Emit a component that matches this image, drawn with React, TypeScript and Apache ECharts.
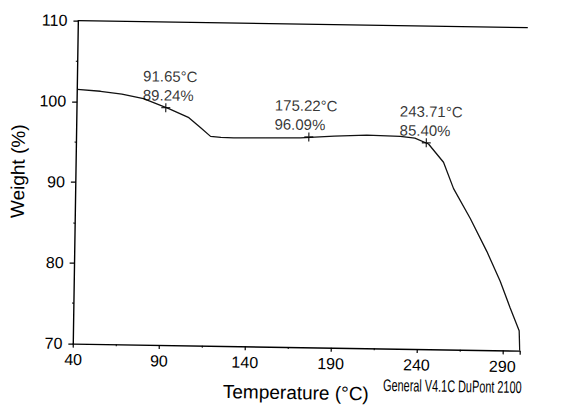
import React, { useEffect, useRef } from "react";
import * as echarts from "echarts";

// TGA curve: temperature (°C) vs weight (%)
const temps = [40, 53.5, 66, 78.6, 93.4, 105.2, 112, 118, 124, 131.5, 150, 170.3, 190, 209, 228.5, 237, 245, 253.9, 260, 270, 280, 288, 294, 299.5, 300];
const weights = [101.5, 101.3, 101.0, 100.47, 99.29, 98.2, 97.0, 95.93, 95.82, 95.8, 95.85, 95.93, 96.2, 96.39, 96.29, 96.1, 95.41, 93.18, 89.93, 86.27, 82.2, 78.55, 75.3, 72.45, 70];

// annotated points
const markerTemps = [91.65, 175.22, 243.71];
const markerWeights = [99.4, 96.05, 95.55];
const markerPercents = ["89.24%", "96.09%", "85.40%"];

// axes
const xMin = 40;
const xMax = 300;
const xInterval = 50;
const yMin = 70;
const yMax = 110;
const yInterval = 10;
const xName = "Temperature (°C)";
const yName = "Weight (%)";
const footnote = "General V4.1C DuPont 2100";

const FONT = "'Liberation Sans', Arial, Helvetica, sans-serif";

export default function App() {
  const ref = useRef<HTMLDivElement>(null);
  useEffect(() => {
    if (!ref.current) return;
    const chart = echarts.init(ref.current, undefined, { renderer: "svg" });
    const labelDx = [-20.6, -32, -24.4];
    const markerData = markerTemps.map((t, i) => ({
      value: [t, markerWeights[i]],
      label: {
        position: [labelDx[i] + 4.5, -38.5 + 4.5],
      },
    }));
    chart.setOption({
      animation: false,
      backgroundColor: "#fff",
      textStyle: { fontFamily: FONT, color: "#000" },
      grid: { left: 75, top: 24, right: 57, bottom: 57.5, containLabel: false },
      xAxis: {
        type: "value",
        min: xMin,
        max: xMax,
        interval: xInterval,
        name: xName,
        nameLocation: "middle",
        nameGap: 36,
        nameTextStyle: { fontSize: 19, color: "#000", fontFamily: FONT },
        axisLine: { show: true, onZero: false, lineStyle: { color: "#000", width: 1.4 } },
        axisTick: { show: true, inside: false, length: 4, lineStyle: { color: "#000", width: 1.2 } },
        minorTick: { show: true, splitNumber: 2, length: 2, lineStyle: { color: "#000", width: 1 } },
        axisLabel: { fontSize: 16, color: "#000", margin: 8, fontFamily: FONT, showMaxLabel: false },
        splitLine: { show: false },
      },
      yAxis: {
        type: "value",
        min: yMin,
        max: yMax,
        interval: yInterval,
        name: yName,
        nameLocation: "middle",
        nameGap: 43.5,
        nameRotate: 90,
        nameTextStyle: { fontSize: 19, color: "#000", fontFamily: FONT, padding: [0, 0, 0, 20] },
        axisLine: { show: true, onZero: false, lineStyle: { color: "#000", width: 1.4 } },
        axisTick: { show: true, inside: false, length: 5, lineStyle: { color: "#000", width: 1.2 } },
        minorTick: { show: true, splitNumber: 2, length: 2, lineStyle: { color: "#000", width: 1 } },
        axisLabel: { fontSize: 16, color: "#000", margin: 11, fontFamily: FONT },
        splitLine: { show: false },
      },
      graphic: [
        {
          type: "line",
          shape: { x1: 75, y1: 24, x2: 525, y2: 24 },
          style: { stroke: "#000", lineWidth: 1.3 },
        },
        {
          type: "text",
          x: 386,
          y: 383.5,
          scaleX: 0.64,
          style: {
            text: footnote,
            fontSize: 17,
            fontFamily: FONT,
            fill: "#000",
            verticalAlign: "middle",
            align: "left",
          },
        },
      ],
      series: [
        {
          type: "line",
          data: temps.map((t, i) => [t, weights[i]]),
          showSymbol: false,
          symbol: "none",
          smooth: false,
          lineStyle: { color: "#111", width: 1.3 },
          silent: true,
          z: 2,
        },
        {
          type: "scatter",
          data: markerData,
          symbol: "path://M0,5H10M5,0V10",
          symbolSize: 9,
          itemStyle: { color: "none", borderColor: "#000", borderWidth: 1.3 },
          label: {
            show: true,
            align: "left",
            verticalAlign: "top",
            fontSize: 15,
            lineHeight: 19,
            color: "#000",
            fontFamily: FONT,
            formatter: (p: any) => `${markerTemps[p.dataIndex]}°C\n${markerPercents[p.dataIndex]}`,
          },
          z: 3,
        },
      ],
    });
    return () => chart.dispose();
  }, []);
  return (
    <div
      ref={ref}
      style={{
        position: "absolute",
        left: 0,
        top: 0,
        width: 579,
        height: 407,
        transform: "rotate(0.9deg)",
        background: "#fff",
      }}
    />
  );
}
